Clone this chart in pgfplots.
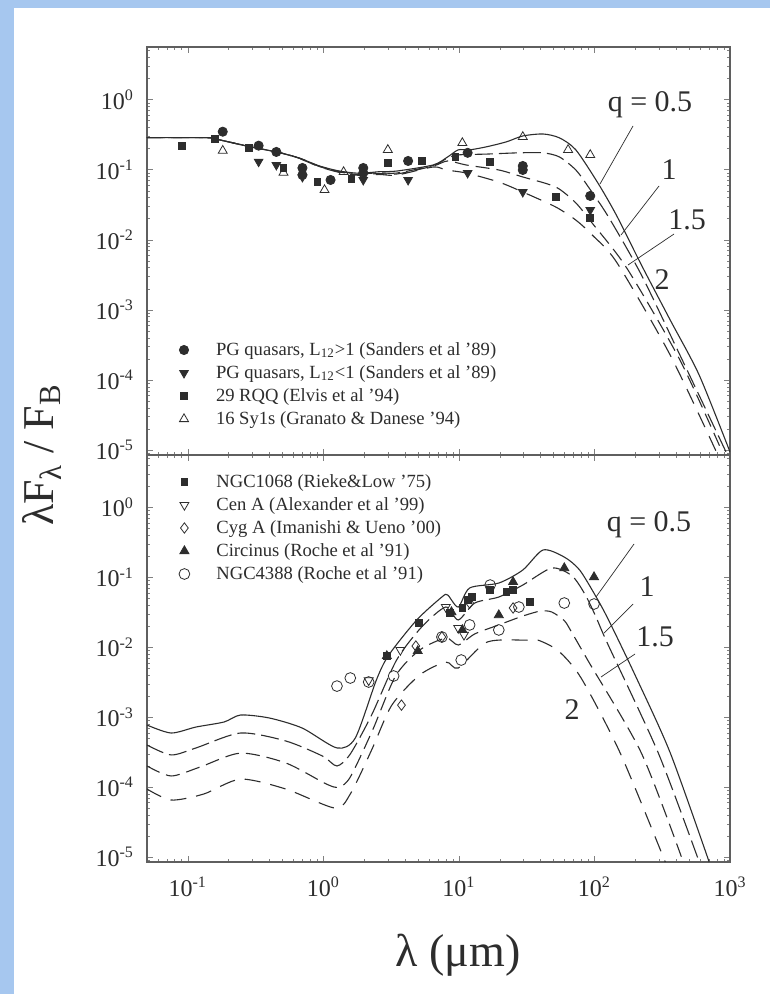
\documentclass[border=0pt]{standalone}
\usepackage{pgfplots}
\pgfplotsset{compat=1.18}
\usepackage{fontspec}
\setmainfont{Liberation Serif}
\definecolor{bgblue}{RGB}{166,199,239}
\definecolor{ink}{RGB}{45,45,45}
\definecolor{axisgray}{RGB}{95,95,95}
\pgfplotsset{
  sedaxis/.style={
    scale only axis, width=291.5pt,
    xmin=0.05, xmax=1000, ymin=8.51e-6, ymax=5.62,
    axis line style={axisgray, line width=0.6pt},
    major tick length=3.2pt, minor tick length=1.6pt,
    tick align=inside, tick pos=both,
    log number format basis/.code 2 args={\pgfmathtruncatemacro\myexp{##2}##1\textsuperscript{\myexp}},
    ticklabel style={font=\fontsize{12}{13}\selectfont, text=ink},
    yticklabel style={xshift=-3pt},
    xticklabel style={yshift=-4pt},
    legend cell align=left,
    legend image code/.code={\draw[##1] plot coordinates {(0pt,0pt)}; \path[draw=none, fill=none] (-2.5pt,-1pt) rectangle (16pt,1pt);},
    legend style={draw=none, fill=none, inner sep=0pt, outer sep=0pt, font=\fontsize{9.3}{10}\selectfont, text=ink,
      nodes={inner ysep=0pt, inner xsep=0pt, text height=7pt, text depth=2pt},
      row sep=2.5pt, anchor=north west},
  },
  curve/.style={ink, line width=0.55pt, no markers, forget plot, smooth, tension=0.45},
  q05/.style={curve},
  q1/.style={curve, dash pattern=on 9pt off 3pt},
  q15/.style={curve, dash pattern=on 7pt off 3.5pt},
  q2/.style={curve, dash pattern=on 8pt off 5pt},
}
\begin{document}
\begin{tikzpicture}[x=0.5pt,y=-0.5pt]
\useasboundingbox (0,0) rectangle (770,994);
\fill[bgblue] (0,0) rectangle (770,994);
\fill[white] (14,8) rectangle (770,994);

% ---------------- upper panel ----------------
\begin{loglogaxis}[sedaxis, at={(73.5pt,-23.5pt)}, anchor=north west, height=204pt,
  xticklabels={},
  legend style={at={(0.0549,0.2794)}}]
\addplot[q05] coordinates {(0.05,0.286)(0.138,0.286)(0.163,0.272)(0.286,0.213)(0.475,0.175)(0.667,0.146)(0.935,0.113)(1.31,0.0957)(1.84,0.0889)(2.58,0.0935)(3.47,0.0955)(6.46,0.1167)(8.26,0.1518)(9.89,0.1917)(12.0,0.1917)(15.9,0.2114)(22.4,0.2493)(29.6,0.3025)(41.8,0.3228)(55.2,0.2841)(72.9,0.1917)(106,0.0646)(145,0.02253)(222,0.004372)(362,7.18e-4)(592,1.178e-4)(1000,9.4e-6)};
\addplot[q1] coordinates {(0.05,0.286)(0.138,0.286)(0.163,0.272)(0.286,0.213)(0.475,0.175)(0.667,0.146)(0.935,0.112)(1.31,0.0945)(1.84,0.0870)(2.58,0.0905)(3.47,0.0895)(6.46,0.1147)(8.26,0.1471)(9.89,0.1624)(15.9,0.1668)(27.7,0.1739)(41.8,0.1739)(55.2,0.1518)(72.9,0.0990)(90.2,0.0567)(127,0.02113)(222,0.003151)(427,2.27e-4)(935,9.4e-6)};
\addplot[q15] coordinates {(0.05,0.286)(0.138,0.286)(0.163,0.272)(0.286,0.213)(0.475,0.175)(0.667,0.145)(0.935,0.111)(1.31,0.0930)(1.84,0.0850)(2.58,0.0880)(3.47,0.0866)(6.46,0.1126)(8.26,0.1331)(11.3,0.1167)(19.7,0.0990)(29.6,0.0787)(51.7,0.0567)(72.9,0.0335)(96.2,0.0173)(173,0.00396)(427,1.93e-4)(877,9.4e-6)};
\addplot[q2] coordinates {(0.05,0.286)(0.138,0.286)(0.163,0.272)(0.286,0.213)(0.475,0.175)(0.667,0.144)(0.935,0.110)(1.31,0.0915)(1.84,0.0830)(2.58,0.0855)(3.47,0.0836)(6.46,0.1092)(8.0,0.0990)(11.3,0.0897)(19.7,0.0666)(29.6,0.0480)(51.7,0.0294)(72.9,0.0191)(96.2,0.01172)(147,0.004665)(362,2.27e-4)(794,9.4e-6)};
\addplot[only marks, mark=*, mark size=2.3pt, draw=ink, fill=ink] coordinates {(0.181,0.348)(0.333,0.220)(0.450,0.179)(0.701,0.1057)(0.701,0.0839)(1.13,0.0713)(1.97,0.1057)(1.97,0.0897)(4.22,0.1331)(11.6,0.1739)(29.6,0.1129)(29.6,0.0990)(93.1,0.0422)};
\addlegendentry{PG quasars, L\textsubscript{12}>1 (Sanders et al '89)}
\addplot[only marks, mark=triangle*, mark size=2.5pt, draw=ink, fill=ink, mark options={rotate=180}] coordinates {(0.333,0.130)(0.450,0.1167)(0.701,0.0787)(1.97,0.0713)(4.22,0.0713)(11.6,0.0897)(29.6,0.0480)(93.1,0.0266)};
\addlegendentry{PG quasars, L\textsubscript{12}<1 (Sanders et al '89)}
\addplot[only marks, mark=square*, mark size=1.7pt, draw=ink, fill=ink] coordinates {(0.0899,0.218)(0.158,0.274)(0.281,0.206)(0.508,0.1057)(0.904,0.0667)(1.61,0.0736)(2.99,0.1245)(5.31,0.1331)(9.42,0.1518)(17.0,0.1289)(51.7,0.0409)(93.1,0.0205)};
\addlegendentry{29 RQQ (Elvis et al '94)}
\addplot[only marks, mark=triangle, mark size=2.6pt, draw=ink, fill=white, line width=0.4pt] coordinates {(0.181,0.1866)(0.508,0.0906)(1.02,0.0513)(1.41,0.0927)(2.99,0.1917)(10.6,0.2403)(29.6,0.2934)(63.9,0.1917)(93.1,0.1624)};
\addlegendentry{16 Sy1s (Granato \& Danese '94)}
\end{loglogaxis}

% ---------------- lower panel ----------------
\begin{loglogaxis}[sedaxis, at={(73.5pt,-227.5pt)}, anchor=north west, height=203.5pt,
  legend style={at={(0.0549,0.9558)}}]
\addplot[q05] coordinates {(0.05,7.74e-4)(0.0753,5.95e-4)(0.115,7.25e-4)(0.185,8.55e-4)(0.245,1.076e-3)(0.400,9.75e-4)(0.698,7.01e-4)(1.26,3.64e-4)(1.72,5.05e-4)(2.46,3.40e-3)(3.04,7.76e-3)(4.89,0.02463)(7.49,0.0524)(8.26,0.0561)(9.89,0.0377)(12.0,0.0705)(19.7,0.0830)(29.6,0.1274)(41.8,0.2466)(59.9,0.1952)(77.8,0.1274)(103,0.0524)(127,0.02463)(200,3.96e-3)(363,3.07e-4)(702,8.51e-6)};
\addplot[q1] coordinates {(0.05,4.01e-4)(0.0753,2.89e-4)(0.115,3.64e-4)(0.245,5.95e-4)(0.528,4.58e-4)(0.984,2.79e-4)(1.26,2.01e-4)(1.58,2.98e-4)(2.27,1.076e-3)(3.47,6.58e-3)(5.31,0.0195)(8.0,0.0377)(9.89,0.02463)(13.1,0.0430)(19.7,0.0524)(29.6,0.0777)(48.4,0.1359)(68.2,0.1054)(85,0.0576)(102,0.0279)(125,0.01128)(296,3.07e-4)(593,8.51e-6)};
\addplot[q15] coordinates {(0.05,2.01e-4)(0.0753,1.446e-4)(0.123,1.94e-4)(0.245,3.07e-4)(0.528,2.22e-4)(1.05,1.112e-4)(1.30,1.002e-4)(1.58,1.395e-4)(2.31,6.57e-4)(3.41,3.89e-3)(5.14,9.15e-3)(8.0,0.01354)(9.89,0.01079)(13.1,0.01555)(19.7,0.0209)(29.6,0.0280)(40,0.0330)(48.4,0.0320)(60,0.0240)(67.8,0.0165)(90,6.36e-3)(222,3.07e-4)(452,8.51e-6)};
\addplot[q2] coordinates {(0.05,9.42e-5)(0.0753,6.55e-5)(0.131,7.98e-5)(0.245,1.304e-4)(0.528,9.42e-5)(1.22,5.03e-5)(1.58,7.98e-5)(2.27,3.40e-4)(3.20,1.49e-3)(5.14,4.02e-3)(8.0,6.15e-3)(9.89,5.06e-3)(16.2,0.01191)(32.1,0.01265)(38.5,0.01265)(54.5,8.81e-3)(80,3.60e-3)(155,3.07e-4)(333,8.51e-6)};
\addplot[only marks, mark=square*, mark size=1.7pt, draw=ink, fill=ink] coordinates {(2.94,7.52e-3)(5.05,0.02232)(8.53,0.0310)(10.6,0.0365)(11.6,0.0475)(12.4,0.0524)(17.0,0.0660)(22.4,0.0618)(25.1,0.0660)(33.2,0.0444)};
\addlegendentry{NGC1068 (Rieke\&Low '75)}
\addplot[only marks, mark=triangle, mark size=2.6pt, draw=ink, fill=white, line width=0.4pt, mark options={rotate=180}] coordinates {(2.16,3.37e-3)(3.70,9.15e-3)(8.0,0.0377)(9.89,0.01885)(10.9,0.01505)};
\addlegendentry{Cen A (Alexander et al '99)}
\addplot[only marks, mark=diamond, mark size=2.6pt, draw=ink, fill=white, line width=0.4pt] coordinates {(3.77,1.49e-3)(4.81,0.01043)(7.49,0.01404)(12.0,0.0430)(25.1,0.0365)};
\addlegendentry{Cyg A (Imanishi \& Ueno '00)}
\addplot[only marks, mark=triangle*, mark size=2.6pt, draw=ink, fill=ink] coordinates {(2.94,7.52e-3)(4.97,8.86e-3)(8.81,0.0319)(10.6,0.01771)(19.7,0.0289)(25.1,0.0859)(59.9,0.1359)(99.3,0.1011)};
\addlegendentry{Circinus (Roche et al '91)}
\addplot[only marks, mark=o, mark size=2.7pt, draw=ink, fill=white, line width=0.4pt] coordinates {(1.26,2.79e-3)(1.58,3.64e-3)(2.16,3.19e-3)(3.30,3.89e-3)(7.49,0.01404)(10.4,6.58e-3)(12.0,0.0209)(17.0,0.0777)(19.7,0.01771)(27.7,0.0377)(59.9,0.0430)(99.3,0.0416)};
\addlegendentry{NGC4388 (Roche et al '91)}
\end{loglogaxis}

% ---------------- curve labels ----------------
\begin{scope}[every node/.style={font=\fontsize{15}{17}\selectfont, text=ink}]
\node at (650,105) {q = 0.5};
\node at (669,170) {1};
\node at (687,220) {1.5};
\node at (662,280) {2};
\draw[ink, line width=0.35pt] (633,126) -- (600,184);
\draw[ink, line width=0.35pt] (659,186) -- (621,235);
\draw[ink, line width=0.35pt] (674,234) -- (628,265);

\node at (649,525) {q = 0.5};
\node at (647,587) {1};
\node at (655,637) {1.5};
\node at (572,710) {2};
\draw[ink, line width=0.35pt] (634,544) -- (596,597);
\draw[ink, line width=0.35pt] (633,604) -- (604,633);
\draw[ink, line width=0.35pt] (635,654) -- (601,677);
\end{scope}

% ---------------- axis titles ----------------
\node[text=ink, font=\fontsize{23}{25}\selectfont] at (458,955) {λ (μm)};
\node[text=ink, font=\fontsize{22}{24}\selectfont, rotate=90] at (42,455) {λF\textsubscript{λ} / F\textsubscript{B}};
\end{tikzpicture}
\end{document}
